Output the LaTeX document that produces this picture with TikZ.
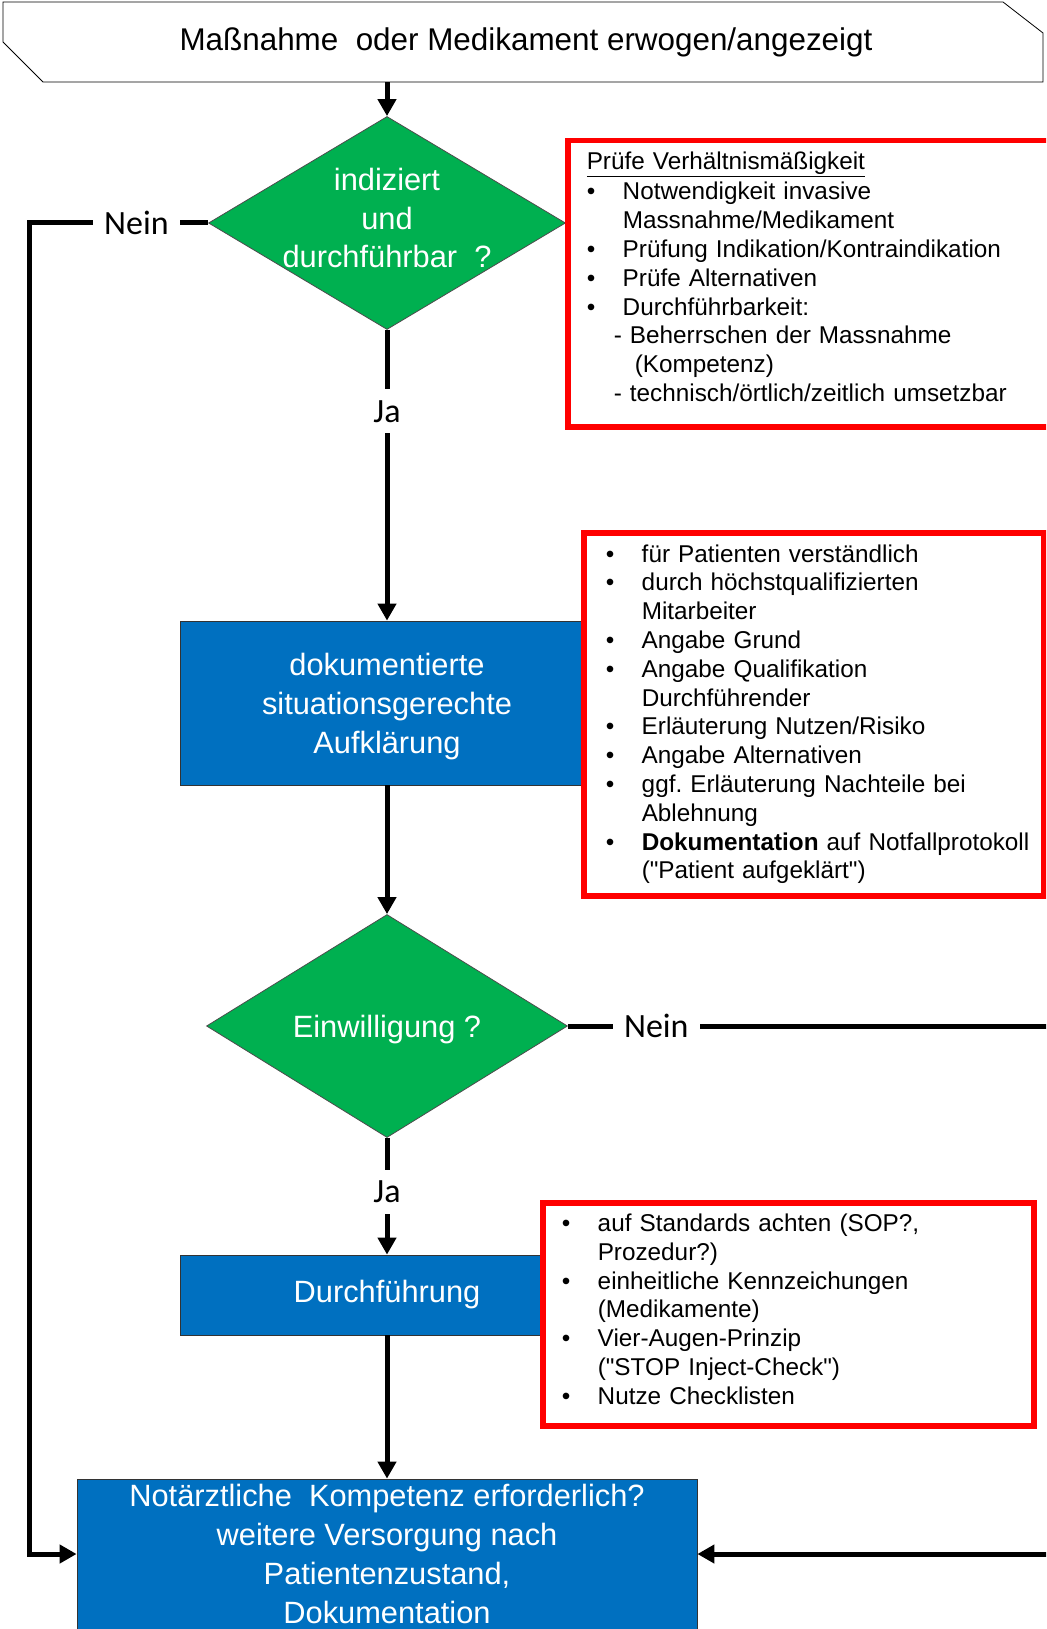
\documentclass[tikz,border=0pt]{standalone}
\usepackage{fontspec}
\setmainfont{Liberation Sans}
\newfontfamily\lblfont{Carlito}
\usetikzlibrary{shapes.geometric,arrows.meta}
\definecolor{flowblue}{HTML}{0070C0}
\definecolor{flowgreen}{HTML}{00B050}
\definecolor{flowred}{HTML}{FF0000}
\newcommand{\bitem}[1]{\makebox[36pt][l]{\textbullet}#1}

\begin{document}
\begin{tikzpicture}[x=1pt,y=-1pt,
    decision/.style={diamond, draw=black!70, line width=0.8pt, fill=flowgreen, text=white, inner sep=-30pt, align=center, font=\fontsize{30.8}{38.5}\selectfont},
    process/.style={rectangle, draw=black!80, line width=0.8pt, fill=flowblue, text=white, align=center, font=\fontsize{30.8}{39}\selectfont},
    note/.style={rectangle, draw=flowred, line width=5.5pt, fill=white, align=left, anchor=north west, inner xsep=19pt, inner ysep=0pt, font=\fontsize{24.3}{28.8}\selectfont},
    flow/.style={line width=5pt, -{Triangle[length=17pt,width=18pt]}},
    lbl/.style={fill=white, inner sep=11pt, font=\lblfont\fontsize{34}{34}\selectfont}]
            \useasboundingbox (0,0) rectangle (1046,1629);
            \clip (0,0) rectangle (1046,1629);
            % start banner
            \draw[line width=0.8pt, fill=white] (3,2) -- (1003,2) -- (1043,33) -- (1043,82) -- (43,82) -- (3,42) -- cycle;
            \node (start) at (526,42) [minimum width=1000pt, minimum height=80pt, font=\fontsize{31.4}{36}\selectfont] {Maßnahme\ \ oder Medikament erwogen/angezeigt};
            % flow
            \node (indiziert) at (387,223) [decision, minimum width=357pt, minimum height=213pt, text depth=10pt] {indiziert\\und\\durchführbar\ \ ?};
            \node (aufklaerung) at (387,703) [process, minimum width=414pt, minimum height=164pt, text depth=0pt] {dokumentierte\\situationsgerechte\\Aufklärung};
            \node (einwilligung) at (387,1026) [decision, minimum width=361pt, minimum height=223pt, text depth=0pt] {Einwilligung\ ?};
            \node (durchfuehrung) at (387,1295) [process, minimum width=414pt, minimum height=80pt] {Durchführung};
            \node (versorgung) at (387,1558) [process, minimum width=620pt, minimum height=158pt, text depth=8pt] {Notärztliche\ \ Kompetenz erforderlich?\\weitere Versorgung nach\\Patientenzustand,\\Dokumentation};
            % notes
            \node (pruefe) at (565,138) [note, minimum width=520pt, minimum height=286pt, text width=482pt, text height=3.7pt] {%
                \underline{Prüfe Verhältnismäßigkeit}\\[1.5pt]
                \bitem{Notwendigkeit invasive}\\
                \hspace*{36pt}Massnahme/Medikament\\
                \bitem{Prüfung Indikation/Kontraindikation}\\
                \bitem{Prüfe Alternativen}\\
                \bitem{Durchführbarkeit:}\\
                \hspace*{27pt}- Beherrschen der Massnahme\\
                \hspace*{48pt}(Kompetenz)\\
                \hspace*{27pt}- technisch/örtlich/zeitlich umsetzbar};
            \node (hinweise) at (581,530) [note, inner xsep=22pt, minimum width=460pt, minimum height=363pt, text width=416pt] {%
                \bitem{für Patienten verständlich}\\
                \bitem{durch höchstqualifizierten}\\
                \hspace*{36pt}Mitarbeiter\\
                \bitem{Angabe Grund}\\
                \bitem{Angabe Qualifikation}\\
                \hspace*{36pt}Durchführender\\
                \bitem{Erläuterung Nutzen/Risiko}\\
                \bitem{Angabe Alternativen}\\
                \bitem{ggf.\ Erläuterung Nachteile bei}\\
                \hspace*{36pt}Ablehnung\\
                \bitem{\mbox{\textbf{Dokumentation}\ auf Notfallprotokoll}}\\
                \hspace*{36pt}(\textquotedbl Patient aufgeklärt\textquotedbl)};
            \node (standards) at (540,1200) [note, minimum width=491pt, minimum height=223pt, text width=453pt, text height=7.7pt] {%
                \bitem{auf Standards achten (SOP?,}\\
                \hspace*{36pt}Prozedur?)\\
                \bitem{einheitliche Kennzeichungen}\\
                \hspace*{36pt}(Medikamente)\\
                \bitem{Vier-Augen-Prinzip}\\
                \hspace*{36pt}(\textquotedbl STOP Inject-Check\textquotedbl)\\
                \bitem{Nutze Checklisten}};
            % connectors
            \draw[flow] (indiziert.north |- start.south) -- (indiziert.north);
            \draw[flow] (indiziert.south) -- node[lbl, pos=0.28] {Ja} (aufklaerung.north);
            \draw[flow] (aufklaerung.south) -- (einwilligung.north);
            \draw[flow] (einwilligung.south) -- node[lbl, pos=0.46] {Ja} (durchfuehrung.north);
            \draw[flow] (durchfuehrung.south) -- (versorgung.north);
            \draw[flow] (indiziert.west) -- node[lbl, pos=0.4] {Nein} ++(-179,0) |- ([yshift=4pt]versorgung.west);
            \draw[flow] (einwilligung.east) -- node[lbl, pos=0.17] {Nein} ++(520,0) |- ([yshift=4pt]versorgung.east);
\end{tikzpicture}
\end{document}
